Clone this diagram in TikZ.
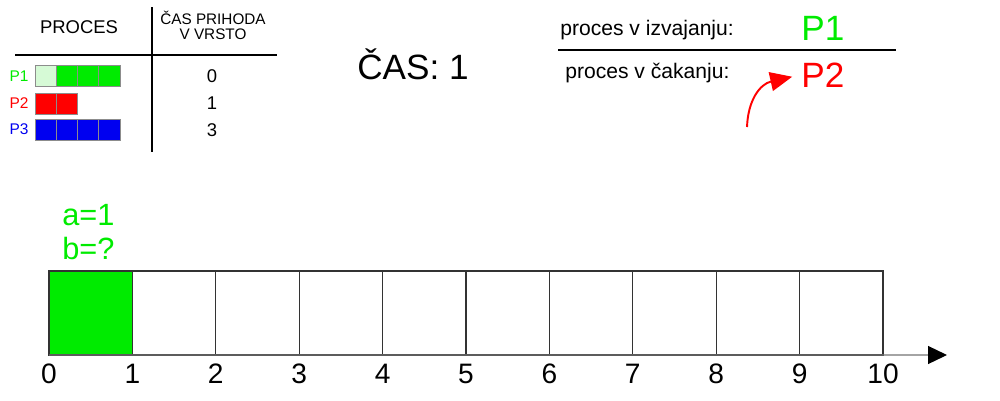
\documentclass[tikz,border=0pt]{standalone}
\usepackage{fontspec}
\setmainfont{Liberation Sans}
\usetikzlibrary{arrows.meta}

\definecolor{procgreen}{RGB}{0,235,0}
\definecolor{proclight}{RGB}{214,250,214}
\definecolor{procred}{RGB}{255,0,0}
\definecolor{procblue}{RGB}{0,0,240}

\begin{document}
\begin{tikzpicture}[
		x=0.02cm,
		y=-0.02cm,
		txt/.style={
			inner sep=0,
			font=\fontsize{12}{14}\selectfont
		},
		slot/.style={
			draw=black!80,
			line width=0.6pt,
			minimum width=1.668cm,
			minimum height=1.68cm,
			inner sep=0,
			outer sep=0
		},
		tick/.style={
			inner sep=0,
			font=\fontsize{16}{19}\selectfont
		},
		piece/.style={
			draw=black!45,
			line width=0.4pt,
			minimum width=0.425cm,
			minimum height=0.42cm,
			inner sep=0,
			outer sep=0
		}
		]
		\useasboundingbox (0,0) rectangle (1000,400);

		% table of processes
		\node[txt,font=\fontsize{10.5}{12}\selectfont,anchor=base] (proctitle) at (79,33) {PROCES};
		\node[txt,font=\fontsize{8.7}{8.6}\selectfont,align=center] (arrtitle) at (213,25) {ČAS PRIHODA\\V VRSTO};
		\draw[line width=0.8pt] (152,7) -- (152,152);
		\draw[line width=0.8pt] (15,55) -- (277,55);

		\node[txt,font=\fontsize{8.8}{10}\selectfont,text=procgreen] (p1lbl) at (19,76) {P1};
		\node[txt,font=\fontsize{8.8}{10}\selectfont,text=procred] (p2lbl) at (19,103) {P2};
		\node[txt,font=\fontsize{8.8}{10}\selectfont,text=procblue] (p3lbl) at (19,129) {P3};

		\node[piece,fill=proclight] (p1a) at (45.6,76) {};
		\foreach \i in {1,2,3}
			\node[piece,fill=procgreen] (p1s\i) at ({35+21.25*(\i+0.5)},76) {};
		\foreach \i in {0,1}
			\node[piece,fill=procred] (p2s\i) at ({35+21.25*(\i+0.5)},103.5) {};
		\foreach \i in {0,...,3}
			\node[piece,fill=procblue] (p3s\i) at ({35+21.25*(\i+0.5)},129.5) {};

		\node[txt,font=\fontsize{10.5}{12}\selectfont] (arr1) at (212,76) {0};
		\node[txt,font=\fontsize{10.5}{12}\selectfont] (arr2) at (212,103) {1};
		\node[txt,font=\fontsize{10.5}{12}\selectfont] (arr3) at (212,130) {3};

		% clock
		\node[txt,font=\fontsize{20}{24}\selectfont] (clock) at (413,64) {ČAS: 1};

		% running and waiting
		\node[txt,anchor=base west] (running) at (560,35) {proces v izvajanju:};
		\node[txt,anchor=base west,font=\fontsize{20}{24}\selectfont,text=procgreen] (p1) at (801,40) {P1};
		\draw[line width=1pt] (558,50) -- (896,50);
		\node[txt,anchor=base west] (waiting) at (565,78) {proces v čakanju:};
		\node[txt,anchor=base west,font=\fontsize{20}{24}\selectfont,text=procred] (p2) at (801,87) {P2};

		\coordinate (arrowstart) at (747,127);
		\draw[-{Triangle[length=0.44cm,width=0.38cm]},procred,line width=1.1pt,shorten >=0.18cm]
			(arrowstart) .. controls (748,100) and (760,84) .. (p2.west);

		% time line
		\node[slot,fill=procgreen] (slot0) at (90.7,313) {};
		\foreach \i in {1,...,9}
			\node[slot] (slot\i) at ({49+83.4*(\i+0.5)},313) {};

		\node[txt,font=\fontsize{17.5}{19.3}\selectfont,text=procgreen,align=left,anchor=west] (ab) at (62,232) {a=1\\b=?};

		\coordinate (axisend) at (947,355);
		\draw[-{Triangle[length=0.38cm,width=0.36cm,black]},line width=0.7pt,black!55] (slot0.south west) -- (axisend);

		\foreach \i in {0,...,10}
			\node[tick] (tick\i) at ({49+83.4*\i},374) {\i};
\end{tikzpicture}
\end{document}
